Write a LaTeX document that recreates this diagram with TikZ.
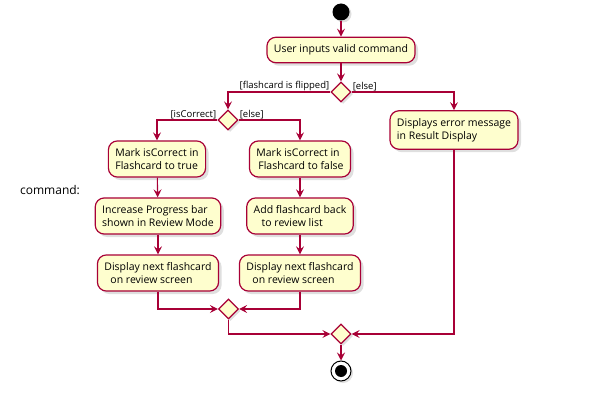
\documentclass[tikz,border=0pt]{standalone}
\usepackage{fontspec}
\setmainfont{Open Sans}
\usetikzlibrary{shapes.geometric,arrows.meta,shadows}
\definecolor{umlborder}{HTML}{A80036}
\definecolor{umlfill}{HTML}{FEFECE}
\tikzset{
  act/.style={draw=umlborder, fill=umlfill, line width=1.2pt, rounded corners=9pt,
    align=left, font=\fontsize{10.5}{13}\selectfont, inner xsep=7pt, inner ysep=7.5pt,
    drop shadow={shadow xshift=3pt, shadow yshift=-3pt, opacity=0.25}},
  dec/.style={draw=umlborder, fill=umlfill, line width=1.2pt, diamond, aspect=1,
    inner sep=0pt, minimum width=20pt, minimum height=20pt,
    drop shadow={shadow xshift=2pt, shadow yshift=-2pt, opacity=0.25}},
  flow/.style={draw=umlborder, line width=1.1pt, -{Stealth[length=8pt, width=8pt, inset=3pt]}},
  guard/.style={font=\fontsize{9.5}{11}\selectfont, inner sep=1pt},
}
\begin{document}
\begin{tikzpicture}[x=1pt, y=-1pt]
\useasboundingbox (0,0) rectangle (589,401);
\node[circle, fill=black, minimum size=17pt, inner sep=0pt,
  drop shadow={shadow xshift=2pt, shadow yshift=-2pt, opacity=0.25}] (start) at (341,12) {};
\node[act] (user) at (341,50) {User inputs valid command};
\node[dec] (d1) at (341,92) {};
\node[guard, anchor=south east] at (d1.west) {[flashcard is flipped]};
\node[guard, anchor=south west] at (d1.east) {[else]};
\node[dec] (d2) at (228,120) {};
\node[guard, anchor=south east] at (d2.west) {[isCorrect]};
\node[guard, anchor=south west] at (d2.east) {[else]};
\node[act] (t1) at (157,159) {Mark isCorrect in\\Flashcard to true};
\node[act] (f1) at (300,159) {Mark isCorrect in\\\hspace*{2pt}Flashcard to false};
\node[act] (t2) at (158,216) {Increase Progress bar\\shown in Review Mode};
\node[act] (f2) at (300,216) {Add flashcard back\\\hspace*{8pt}to review list};
\node[act] (t3) at (158,273) {Display next flashcard\\\hspace*{6pt}on review screen};
\node[act] (f3) at (300,273) {Display next flashcard\\\hspace*{6pt}on review screen};
\node[act] (err) at (454,130) {Displays error message\\in Result Display};
\node[dec] (m1) at (228.5,309) {};
\node[dec] (m2) at (341,334) {};
\node[circle, draw=black, line width=1pt, fill=white, minimum size=20pt, inner sep=0pt,
  drop shadow={shadow xshift=2pt, shadow yshift=-2pt, opacity=0.25}] (stop) at (341,371) {};
\node[circle, fill=black, minimum size=12pt, inner sep=0pt] (stopdot) at (stop.center) {};
\node[font=\fontsize{12}{14}\selectfont, inner sep=0pt] (cmd) at (50,190) {command:};
\draw[flow] (start) -- (user);
\draw[flow] (user) -- (d1);
\draw[flow] (d1.west) -| (d2.north);
\draw[flow] (d1.east) -| (err.north);
\draw[flow] (d2.west) -| (t1.north);
\draw[flow] (d2.east) -| (f1.north);
\draw[flow] (t1) -- (t2);
\draw[flow] (t2) -- (t3);
\draw[flow] (f1) -- (f2);
\draw[flow] (f2) -- (f3);
\draw[flow] (t3.south) |- (m1.west);
\draw[flow] (f3.south) |- (m1.east);
\draw[flow] (m1.south) |- (m2.west);
\draw[flow] (err.south) |- (m2.east);
\draw[flow] (m2) -- (stop);
\end{tikzpicture}
\end{document}
